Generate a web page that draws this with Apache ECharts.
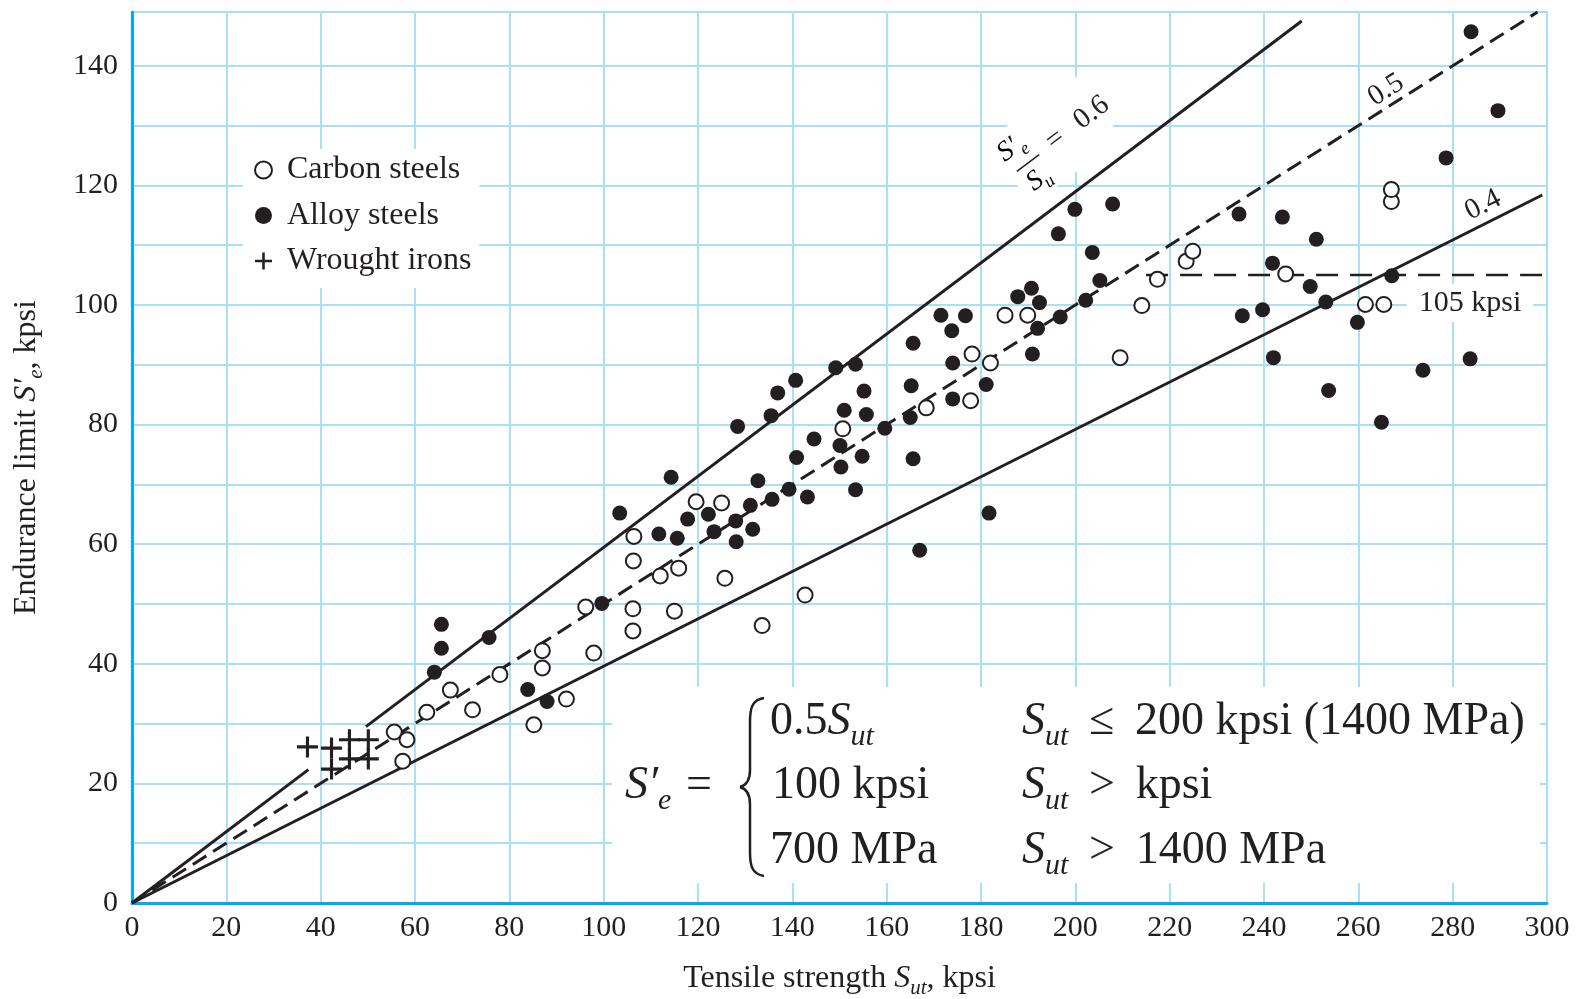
<!DOCTYPE html>
<html>
<head>
<meta charset="utf-8">
<title>Endurance limit vs tensile strength</title>
<script src="https://cdn.jsdelivr.net/npm/echarts@6/dist/echarts.min.js"></script>
<style>
html, body { margin: 0; padding: 0; background: #fff; }
#main { width: 1580px; height: 999px; }
</style>
</head>
<body>
<div id="main"></div>
<script>
// tick labels
var xTicks = [0, 20, 40, 60, 80, 100, 120, 140, 160, 180, 200, 220, 240, 260, 280, 300];
var yTicks = [0, 20, 40, 60, 80, 100, 120, 140];

// [Sut, Se'] kpsi
var carbonSteels = [
    [55.6, 28.6], [57.4, 23.7], [58.3, 27.3], [62.5, 31.9], [67.5, 35.6], [72.2, 32.3], [78.0, 38.2],
    [85.2, 29.8], [87.0, 39.3], [87.0, 42.2], [92.1, 34.1], [96.2, 49.5], [97.9, 41.8],
    [106.2, 45.5], [106.2, 49.2], [106.3, 57.2], [106.4, 61.3], [112.0, 54.7], [115.0, 48.8], [115.9, 56.0],
    [119.6, 67.1], [125.0, 66.9], [125.7, 54.3], [133.6, 46.4], [142.7, 51.5], [150.7, 79.3],
    [168.4, 82.8], [177.8, 84.0], [178.1, 91.8], [182.0, 90.3], [185.1, 98.3], [189.9, 98.3],
    [209.5, 91.2], [214.1, 99.9], [217.4, 104.3], [223.5, 107.3], [224.9, 109.0], [244.6, 105.2],
    [261.5, 100.1], [265.4, 100.1], [267.0, 117.3], [267.0, 119.3]
];
var alloySteels = [
    [64.1, 38.6], [65.6, 42.6], [65.6, 46.6], [75.7, 44.4], [83.9, 35.7], [88.0, 33.7], [99.6, 50.1],
    [103.4, 65.2], [111.7, 61.7], [114.3, 71.2], [115.6, 61.0], [117.8, 64.2], [122.2, 65.0], [123.4, 62.1],
    [128.0, 63.9], [128.1, 60.4], [128.4, 79.7], [131.1, 66.5], [131.6, 62.5], [132.7, 70.6],
    [135.5, 81.5], [135.7, 67.5], [136.9, 85.3], [139.3, 69.2], [140.7, 87.4], [140.9, 74.5],
    [143.2, 67.9], [144.6, 77.6], [149.2, 89.5], [150.1, 76.5], [150.3, 72.9], [151.0, 82.4],
    [153.4, 69.1], [153.4, 90.1], [154.8, 74.7], [155.2, 85.6], [155.7, 81.7], [159.6, 79.4],
    [165.0, 81.2], [165.2, 86.5], [165.6, 74.3], [165.6, 93.6], [167.0, 59.0],
    [171.5, 98.3], [173.8, 95.7], [174.0, 84.3], [174.0, 90.3], [176.7, 98.2], [181.1, 86.7], [181.7, 65.2],
    [187.8, 101.4], [190.7, 102.8], [190.9, 91.8], [192.0, 96.1], [192.4, 100.4], [196.4, 111.9], [196.8, 98.0],
    [199.9, 116.0], [202.2, 100.8], [203.6, 108.8], [205.2, 104.1], [207.9, 116.9],
    [234.7, 115.2], [235.4, 98.2], [239.7, 99.2], [241.8, 107.0], [242.0, 91.2], [243.9, 114.7],
    [249.8, 103.1], [251.1, 111.0], [253.1, 100.5], [253.7, 85.7], [259.8, 97.1], [264.9, 80.4],
    [267.1, 104.9], [273.7, 89.1], [278.6, 124.6], [283.7, 91.0], [283.9, 145.7], [289.6, 132.5]
];
var wroughtIrons = [
    [37.2, 26.1], [42.3, 22.4], [42.3, 25.9], [46.1, 24.1], [46.1, 27.3], [50.1, 24.1], [50.1, 27.3]
];

// ratio lines Se'/Sut = 0.6 (broken around the irons), 0.5, 0.4 and the 105 kpsi cap
var line06a = [[0, 0], [37.4, 22.3]];
var line06b = [[49.6, 29.5], [248, 147.5]];
var line05 = [[0, 0], [298, 149]];
var line04 = [[0, 0], [299, 118.4]];
var line105 = [[215, 105], [300, 105]];

var ink = '#231f20';
var serif = 'Liberation Serif';
var gridBlue = '#a9e0f7';
var axisBlue = '#00aeef';
var plusPath = 'path://M8.5,0h3v8.5h8.5v3h-8.5v8.5h-3v-8.5h-8.5v-3h8.5z';
var gap = ' \u2009';

function richSet(size, subSize, lh) {
    return {
        n: {fontFamily: serif, fontSize: size, lineHeight: lh, verticalAlign: 'middle', color: ink},
        i: {fontFamily: serif, fontSize: size, lineHeight: lh, verticalAlign: 'middle', fontStyle: 'italic', color: ink},
        sub: {fontFamily: serif, fontSize: subSize, lineHeight: lh, verticalAlign: 'bottom', fontStyle: 'italic', color: ink}
    };
}
var richAxis = richSet(32, 21, 40);
var richBig = richSet(46, 30, 60);
var richFrac = richSet(28, 18, 36);

function lineSeries(data, dash, width) {
    return {
        type: 'line',
        data: data,
        symbol: 'none',
        silent: true,
        lineStyle: {color: ink, width: width, type: dash}
    };
}

function label(x, y, text, rich, extra) {
    var el = {
        type: 'text', x: x, y: y, z: 1,
        style: {
            text: text, rich: rich, fill: ink,
            fontFamily: serif, fontSize: 30,
            align: 'left', textAlign: 'left',
            verticalAlign: 'middle', textVerticalAlign: 'middle'
        }
    };
    for (var k in extra) el.style[k] = extra[k];
    return el;
}

// curly brace of the formula, built from curves and straight pieces
var braceStyle = {fill: 'none', stroke: ink, lineWidth: 2.5};
var brace = {
    type: 'group',
    children: [
        {type: 'bezierCurve', z: 1, shape: {x1: 764, y1: 698, cpx1: 752, cpy1: 700, cpx2: 750, cpy2: 708, x2: 750, y2: 722}, style: braceStyle},
        {type: 'line', z: 1, shape: {x1: 750, y1: 722, x2: 750, y2: 770}, style: braceStyle},
        {type: 'bezierCurve', z: 1, shape: {x1: 750, y1: 770, cpx1: 750, cpy1: 780, cpx2: 747, cpy2: 785, x2: 740, y2: 787}, style: braceStyle},
        {type: 'bezierCurve', z: 1, shape: {x1: 740, y1: 787, cpx1: 747, cpy1: 789, cpx2: 750, cpy2: 794, x2: 750, y2: 804}, style: braceStyle},
        {type: 'line', z: 1, shape: {x1: 750, y1: 804, x2: 750, y2: 852}, style: braceStyle},
        {type: 'bezierCurve', z: 1, shape: {x1: 750, y1: 852, cpx1: 750, cpy1: 866, cpx2: 752, cpy2: 874, x2: 764, y2: 876}, style: braceStyle}
    ]
};

var chart = echarts.init(document.getElementById('main'));

var option = {
    animation: false,
    backgroundColor: '#fff',
    grid: {
        left: 132, right: 33, top: 12, bottom: 96,
        outerBoundsMode: 'none',
        show: true, borderColor: gridBlue, borderWidth: 2
    },
    legend: {
        data: ['Carbon steels', 'Alloy steels', 'Wrought irons'],
        orient: 'vertical',
        left: 243, top: 149,
        padding: [4, 8, 10, 11],
        itemWidth: 17, itemHeight: 17, itemGap: 11.5,
        backgroundColor: '#fff',
        selectedMode: false,
        textStyle: {fontFamily: serif, fontSize: 32, color: ink, lineHeight: 34, padding: [0, 0, 0, 10]}
    },
    xAxis: {
        type: 'value',
        min: 0, max: 300, interval: 20,
        name: '{n|Tensile strength }{i|S}{sub|ut}{n|, kpsi}',
        nameLocation: 'middle',
        nameGap: 56,
        nameTextStyle: {rich: richAxis},
        axisLine: {lineStyle: {color: axisBlue, width: 3}},
        axisTick: {show: false},
        axisLabel: {fontFamily: serif, fontSize: 30, color: ink, margin: 10},
        splitLine: {lineStyle: {color: gridBlue, width: 2}}
    },
    yAxis: {
        type: 'value',
        min: 0, max: 149, interval: 10,
        name: '{n|Endurance limit }{i|S′}{sub|e}{n|, kpsi}',
        nameLocation: 'middle',
        nameRotate: 90,
        nameGap: 85,
        nameTextStyle: {rich: richAxis},
        axisLine: {lineStyle: {color: axisBlue, width: 3}},
        axisTick: {show: false},
        axisLabel: {
            fontFamily: serif, fontSize: 30, color: ink, margin: 14,
            formatter: function (v) {
                return yTicks.indexOf(v) >= 0 ? String(v) : '';
            }
        },
        splitLine: {lineStyle: {color: gridBlue, width: 2}}
    },
    series: [
        lineSeries(line06a, 'solid', 3),
        lineSeries(line06b, 'solid', 3),
        lineSeries(line05, [16, 8], 3),
        lineSeries(line04, 'solid', 3),
        lineSeries(line105, [22, 12], 2.5),
        {
            name: 'Wrought irons', type: 'scatter', data: wroughtIrons,
            symbol: plusPath, symbolSize: 21, z: 3,
            itemStyle: {color: ink, opacity: 1}
        },
        {
            name: 'Alloy steels', type: 'scatter', data: alloySteels,
            symbol: 'circle', symbolSize: 15, z: 3,
            itemStyle: {color: ink, opacity: 1}
        },
        {
            name: 'Carbon steels', type: 'scatter', data: carbonSteels,
            symbol: 'circle', symbolSize: 15, z: 3,
            itemStyle: {color: '#fff', borderColor: ink, borderWidth: 2, opacity: 1}
        }
    ],
    graphic: [
        // formula box
        {type: 'rect', z: 1, shape: {x: 612, y: 687, width: 928, height: 196}, style: {fill: '#fff'}},
        label(625, 786, '{i|S′}{sub|e}', richBig),
        label(686, 786, '{n|=}', richBig),
        brace,
        label(770, 722, '{n|0.5}{i|S}{sub|ut}', richBig),
        label(772, 786, '{n|100 kpsi}', richBig),
        label(770, 851, '{n|700 MPa}', richBig),
        label(1022, 722, '{i|S}{sub|ut}{n|' + gap + '≤' + gap + '200 kpsi (1400 MPa)}', richBig),
        label(1022, 786, '{i|S}{sub|ut}{n|' + gap + '>' + gap + 'kpsi}', richBig),
        label(1022, 851, '{i|S}{sub|ut}{n|' + gap + '>' + gap + '1400 MPa}', richBig),

        // line labels
        label(1470, 303, '105 kpsi', null, {align: 'center', textAlign: 'center', backgroundColor: '#fff', padding: [4, 12]}),
        {
            type: 'text', x: 1386, y: 90, z: 1, rotation: 32.4 * Math.PI / 180,
            style: {text: '0.5', fill: ink, fontFamily: serif, fontSize: 29, align: 'center', textAlign: 'center', verticalAlign: 'middle', textVerticalAlign: 'middle'}
        },
        {
            type: 'text', x: 1483, y: 205, z: 1, rotation: 26.9 * Math.PI / 180,
            style: {text: '0.4', fill: ink, fontFamily: serif, fontSize: 29, align: 'center', textAlign: 'center', verticalAlign: 'middle', textVerticalAlign: 'middle'}
        },
        {
            type: 'group', x: 1028, y: 163, rotation: 37 * Math.PI / 180,
            children: [
                {type: 'rect', z: 1, z2: 0, shape: {x: -22, y: -42, width: 112, height: 78}, style: {fill: '#fff'}},
                {type: 'text', z: 1, z2: 1, x: -4, y: -22, style: {text: '{i|S′}{sub|e}', rich: richFrac, align: 'center', verticalAlign: 'middle'}},
                {type: 'line', z: 1, z2: 1, shape: {x1: -14, y1: 0, x2: 14, y2: 0}, style: {stroke: ink, lineWidth: 1.5}},
                {type: 'text', z: 1, z2: 1, x: -1, y: 19, style: {text: '{i|S}{sub|u}', rich: richFrac, align: 'center', verticalAlign: 'middle'}},
                {type: 'text', z: 1, z2: 1, x: 36, y: -2, style: {text: '=', fill: ink, fontFamily: serif, fontSize: 29, align: 'center', verticalAlign: 'middle'}},
                {type: 'text', z: 1, z2: 1, x: 81, y: -2, style: {text: '0.6', fill: ink, fontFamily: serif, fontSize: 29, align: 'center', verticalAlign: 'middle'}}
            ]
        }
    ]
};

chart.setOption(option);
</script>
</body>
</html>
